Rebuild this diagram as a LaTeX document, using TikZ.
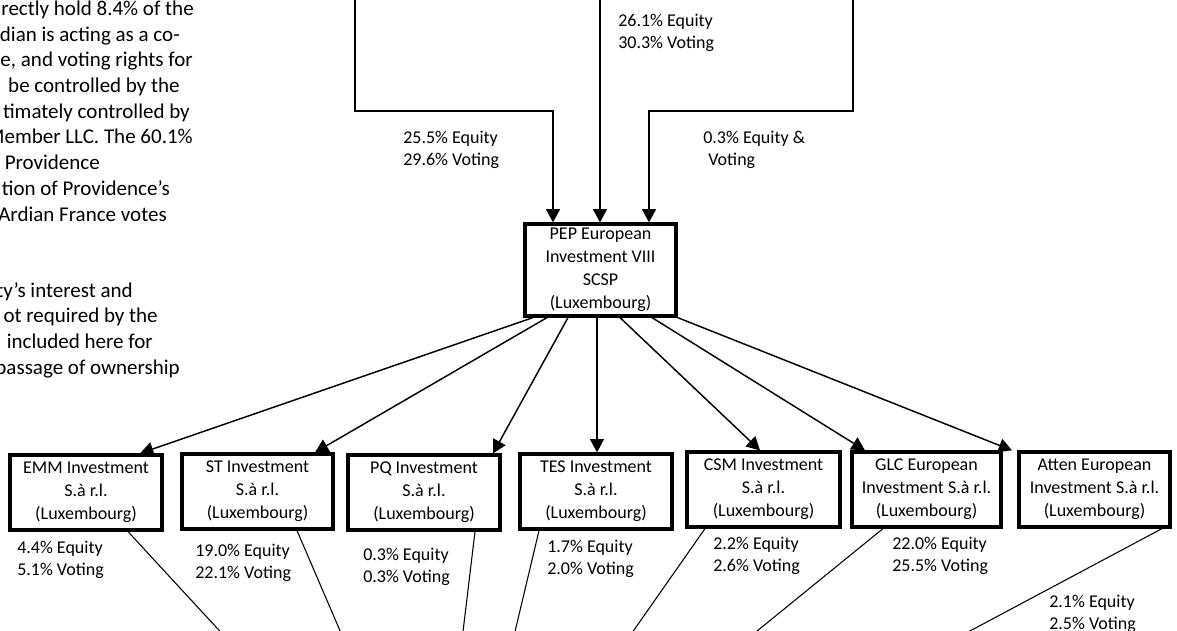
\documentclass[tikz,border=0pt]{standalone}
\usepackage{fontspec}
\setmainfont{Carlito}
\usetikzlibrary{arrows.meta,calc}
\tikzset{
  box/.style={draw, line width=2.4pt, inner sep=0pt, align=center,
    font=\fontsize{13.5pt}{17.4pt}\selectfont},
  lbl/.style={anchor=base west, inner sep=0pt, align=left,
    font=\fontsize{13.5pt}{16.5pt}\selectfont},
  note/.style={anchor=base east, inner sep=0pt,
    font=\fontsize{15.75pt}{19pt}\selectfont},
  arr/.style={line width=1.1pt, -{Triangle[length=10pt,width=10.5pt]}},
  thin/.style={line width=0.8pt}
}
\begin{document}
\begin{tikzpicture}[x=0.75pt,y=-0.75pt]
\useasboundingbox (0,0) rectangle (1177,631);
\clip (0,0) rectangle (1177,631);

% left note (cut off at the left edge)
\node[note] (n1) at (194,16) {rectly hold 8.4\% of the};
\node[note] (n2) at (180,41.5) {dian is acting as a co-};
\node[note] (n3) at (193,67) {e, and voting rights for};
\node[note] (n4) at (180,93) {be controlled by the};
\node[note] (n5) at (190,118.5) {timately controlled by};
\node[note] (n6) at (193,144) {Member LLC. The 60.1\%};
\node[note] (n7) at (100,170) {Providence};
\node[note] (n8) at (170,195.5) {tion of Providence’s};
\node[note] (n9) at (167,221) {Ardian France votes};
\node[note] (n10) at (133,297) {ty’s interest and};
\node[note] (n11) at (158,322.5) {ot required by the};
\node[note] (n12) at (153,348) {included here for};
\node[note] (n13) at (180,374) {passage of ownership};

% central box
\node[box, minimum width=113.25pt, minimum height=69pt,
  font=\fontsize{13.5pt}{17.2pt}\selectfont] (pep) at (600.5,270)
  {PEP European\\Investment VIII\\SCSP\\(Luxembourg)};

% upper feeds
\coordinate (tA) at (355,-5);
\coordinate (tB) at (600,-5);
\coordinate (tC) at (853,-5);
\draw[arr] (tA) |- (553,111) -- (553,0 |- pep.north);
\draw[arr] (tB) -- (600,0 |- pep.north);
\draw[arr] (tC) |- (649,111) -- (649,0 |- pep.north);

\node[lbl] (l1) at (618,49) {26.1\% Equity\\30.3\% Voting};
\node[lbl] (l2) at (403,166) {25.5\% Equity\\29.6\% Voting};
\node[lbl] (l3) at (703,166) {0.3\% Equity \&\\\hspace*{3.75pt}Voting};

% subsidiaries
\node[box, minimum width=114pt, minimum height=56.25pt] (emm) at (86,492.5)
  {EMM Investment\\S.à r.l.\\(Luxembourg)};
\node[box, minimum width=113.25pt, minimum height=56.25pt] (st) at (257.5,491.5)
  {ST Investment\\S.à r.l.\\(Luxembourg)};
\node[box, minimum width=114pt, minimum height=56.25pt] (pq) at (424,492.5)
  {PQ Investment\\S.à r.l.\\(Luxembourg)};
\node[box, minimum width=114pt, minimum height=56.25pt] (tes) at (596,491.5)
  {TES Investment\\S.à r.l.\\(Luxembourg)};
\node[box, minimum width=114.75pt, minimum height=56.25pt] (csm) at (763.5,489.5)
  {CSM Investment\\S.à r.l.\\(Luxembourg)};
\node[box, minimum width=111.75pt, minimum height=56.25pt] (glc) at (926.5,489.5)
  {GLC European\\Investment S.à r.l.\\(Luxembourg)};
\node[box, minimum width=113.25pt, minimum height=56.25pt] (atten) at (1094.5,489.5)
  {Atten European\\Investment S.à r.l.\\(Luxembourg)};

% arrows from PEP to subsidiaries
\draw[arr] (533,0 |- pep.south) -- (140,0 |- emm.north);
\draw[arr] (547,0 |- pep.south) -- (315,0 |- st.north);
\draw[arr] (568,0 |- pep.south) -- (493,0 |- pq.north);
\draw[arr] (597,0 |- pep.south) -- (597,0 |- tes.north);
\draw[arr] (620,0 |- pep.south) -- (760,0 |- csm.north);
\draw[arr] (652,0 |- pep.south) -- (865,0 |- glc.north);
\draw[arr] (pep.south east) -- (1012,0 |- atten.north);

% lower labels
\node[lbl] (b1) at (17,575) {4.4\% Equity\\5.1\% Voting};
\node[lbl] (b2) at (195,578) {19.0\% Equity\\22.1\% Voting};
\node[lbl] (b3) at (363,582) {0.3\% Equity\\0.3\% Voting};
\node[lbl] (b4) at (547,574) {1.7\% Equity\\2.0\% Voting};
\node[lbl] (b5) at (713,571) {2.2\% Equity\\2.6\% Voting};
\node[lbl] (b6) at (892,571) {22.0\% Equity\\25.5\% Voting};
\node[lbl] (b7) at (1049,629) {2.1\% Equity\\2.5\% Voting};

% lower lines leaving the picture
\coordinate (e1) at (228,640);
\coordinate (e2) at (344,640);
\coordinate (e3) at (462,640);
\coordinate (e4) at (513,640);
\coordinate (e5) at (627,640);
\coordinate (e6) at (746,640);
\coordinate (e7) at (953,640);
\draw[thin] (128,0 |- emm.south) -- (e1);
\draw[thin] (297,0 |- st.south) -- (e2);
\draw[thin] (475,0 |- pq.south) -- (e3);
\draw[thin] (539,0 |- tes.south) -- (e4);
\draw[thin] (705,0 |- csm.south) -- (e5);
\draw[thin] (883,0 |- glc.south) -- (e6);
\draw[thin] (1162,0 |- atten.south) -- (e7);
\end{tikzpicture}
\end{document}
